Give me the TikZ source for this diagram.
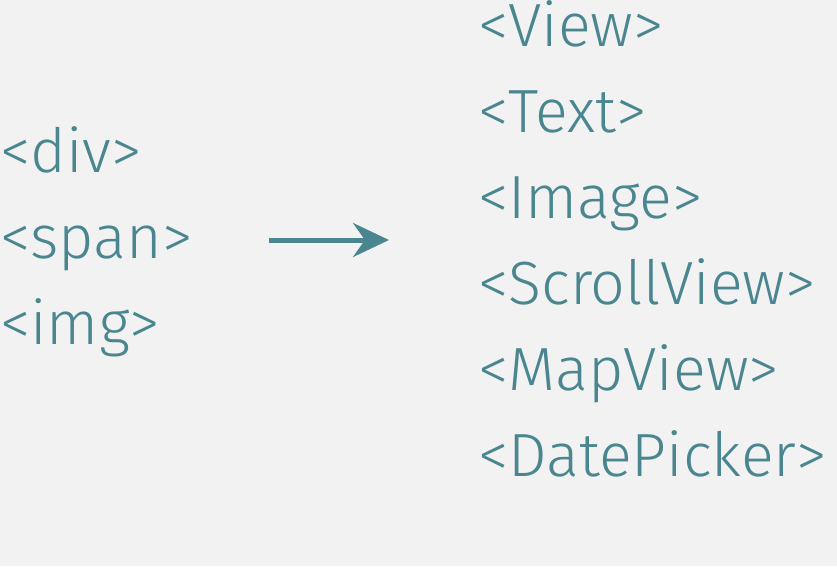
\documentclass[tikz,border=0pt]{standalone}
\usepackage{fontspec}
\setmainfont{Fira Sans Light}
\usepackage{xcolor}
\usetikzlibrary{arrows.meta}
\definecolor{tagcol}{HTML}{4A868F}
\definecolor{bgcol}{HTML}{F2F2F2}
\tikzset{tag/.style={anchor=base west,inner sep=0pt,text=tagcol,font=\fontsize{61}{73}\selectfont}}
\begin{document}
\begin{tikzpicture}[x=1pt,y=-1pt]
		\fill [bgcol] (0,0) rectangle (837,566);
		\useasboundingbox (0,0) rectangle (837,566);
		% web tags
		\node [tag] (div) at (0,172) {<div>};
		\node [tag] (span) at (0,258) {<span>};
		\node [tag] (img) at (0,344) {<img>};
		% native components
		\node [tag] (view) at (478,46) {<View>};
		\node [tag] (text) at (478,132) {<Text>};
		\node [tag] (image) at (478,218) {<Image>};
		\node [tag] (scroll) at (478,304) {<ScrollView>};
		\node [tag] (map) at (478,390) {<MapView>};
		\node [tag] (date) at (478,476) {<DatePicker>};
		\coordinate (from) at (269,240);
		\coordinate (to) at (389,240);
		\draw [tagcol,line width=5pt,-{Stealth[length=36pt,width=34pt,inset=12pt]}] (from) -- (to);
	\end{tikzpicture}
\end{document}
